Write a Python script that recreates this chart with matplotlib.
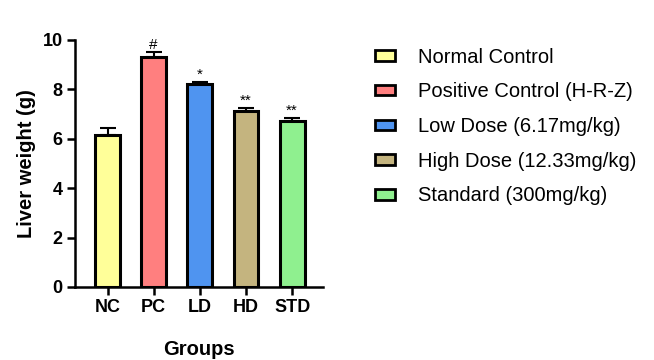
import matplotlib
matplotlib.use('Agg')
import matplotlib.pyplot as plt
from matplotlib.patches import Patch

plt.rcParams['font.family'] = ['Liberation Sans', 'DejaVu Sans']

groups = ['NC', 'PC', 'LD', 'HD', 'STD']
means = [6.15, 9.32, 8.2, 7.13, 6.73]
errors = [0.27, 0.18, 0.1, 0.1, 0.09]
marks = ['', '#', '*', '**', '**']
colors = ['#FFFF99', '#FF7F7F', '#4F94F0', '#C4B47F', '#8FF08F']
legend_labels = ['Normal Control', 'Positive Control (H-R-Z)', 'Low Dose (6.17mg/kg)',
                 'High Dose (12.33mg/kg)', 'Standard (300mg/kg)']

fig = plt.figure(figsize=(6.54, 3.6), dpi=100)
ax = fig.add_axes([0.115, 0.203, 0.379, 0.686])

x = list(range(len(groups)))
ax.bar(x, means, width=0.54, color=colors, edgecolor='black', linewidth=2.2, zorder=2)
ax.errorbar(x, means, yerr=[[0]*len(errors), errors], fmt='none', ecolor='black',
            elinewidth=1.5, capsize=6, capthick=1.5, zorder=1)
for xi, m, e, s in zip(x, means, errors, marks):
    if s:
        ax.text(xi, m + e + 0.02, s, ha='center', va='bottom', fontsize=11)

ax.set_xlim(-0.7, 4.67)
ax.set_ylim(0, 10)
ax.set_yticks([0, 2, 4, 6, 8, 10])
ax.set_xticks(x)
ax.set_xticklabels(groups)
for sp in ['top', 'right']:
    ax.spines[sp].set_visible(False)
for sp in ['left', 'bottom']:
    ax.spines[sp].set_linewidth(1.8)
ax.tick_params(width=1.8, length=6, labelsize=13, pad=3)
for lab in ax.get_xticklabels() + ax.get_yticklabels():
    lab.set_fontweight('bold')
ax.set_ylabel('Liver weight (g)', fontsize=14.5, fontweight='bold', labelpad=5)
ax.set_xlabel('Groups', fontsize=14.5, fontweight='bold', labelpad=17)

handles = [Patch(facecolor=c, edgecolor='black', linewidth=2) for c in colors]
fig.legend(handles, legend_labels, loc='upper left', bbox_to_anchor=(0.545, 0.918),
           frameon=False, fontsize=14.5, handlelength=1.0, handleheight=0.42,
           labelspacing=0.78, handletextpad=1.15)

fig.savefig('out.png', dpi=100)
